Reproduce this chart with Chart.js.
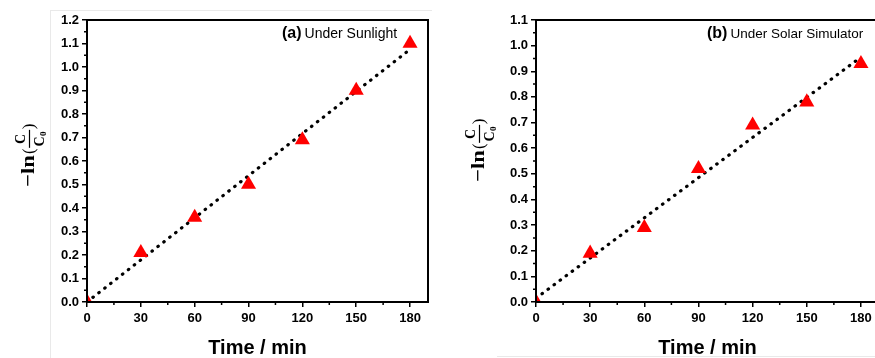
<!DOCTYPE html>
<html>
<head>
<meta charset="utf-8">
<script src="https://cdn.jsdelivr.net/npm/chart.js@4.4.1/dist/chart.umd.min.js"></script>
<style>
  html, body { margin: 0; padding: 0; background: #fff; }
  body { width: 875px; height: 358px; overflow: hidden; position: relative; }
  .panel { position: absolute; top: 0; height: 358px; }
  #pa { left: 0; width: 440px; }
  #pb { left: 440px; width: 452px; }
  .crop { position: absolute; background: #e9e9e9; }
</style>
</head>
<body>
<!-- faint crop edges from the source figure -->
<div class="crop" style="left:50px;top:10px;width:1px;height:348px"></div>
<div class="crop" style="left:50px;top:10px;width:382px;height:1px"></div>
<div class="crop" style="left:497px;top:356px;width:378px;height:1px"></div>

<div class="panel" id="pa"><canvas id="chartA" width="440" height="358"></canvas></div>
<div class="panel" id="pb"><canvas id="chartB" width="452" height="358"></canvas></div>

<script>
// ── data ────────────────────────────────────────────────────────────
const timeMin = [0, 30, 60, 90, 120, 150, 180];
const sunlight = [0.0, 0.21, 0.36, 0.50, 0.69, 0.90, 1.10];
const simulator = [0.0, 0.19, 0.29, 0.52, 0.69, 0.78, 0.93];

// dotted fit lines, end points
const fitX = [0, 180];
const fitSunlight = [0.0, 1.075];
const fitSimulator = [0.015, 0.955];

const xTicks = [0, 30, 60, 90, 120, 150, 180];
const yTicksA = [0, 0.1, 0.2, 0.3, 0.4, 0.5, 0.6, 0.7, 0.8, 0.9, 1.0, 1.1, 1.2];
const yTicksB = [0, 0.1, 0.2, 0.3, 0.4, 0.5, 0.6, 0.7, 0.8, 0.9, 1.0, 1.1];

const pts = (xs, ys) => xs.map((x, i) => ({ x, y: ys[i] }));

// ── drawing helpers ─────────────────────────────────────────────────
// -ln(C/C0), rotated, drawn from the bottom end of the text
function drawYTitle(ctx, x, y) {
  ctx.save();
  ctx.translate(x, y);
  ctx.rotate(-Math.PI / 2);
  ctx.fillStyle = "#000";
  ctx.strokeStyle = "#000";
  ctx.textBaseline = "alphabetic";
  ctx.textAlign = "left";

  ctx.save();
  ctx.scale(1.2, 1);
  ctx.font = "bold 19px 'Liberation Serif'";
  ctx.fillText("\u2212ln", 0, 0);
  let u = ctx.measureText("\u2212ln").width * 1.2 + 1;
  ctx.restore();

  ctx.font = "17px 'Liberation Serif'";
  ctx.fillText("(", u, 0);
  u += ctx.measureText("(").width + 0.5;

  const barW = 18;
  ctx.lineWidth = 1.2;
  ctx.beginPath();
  ctx.moveTo(u, -4.5);
  ctx.lineTo(u + barW, -4.5);
  ctx.stroke();

  ctx.font = "bold 14px 'Liberation Serif'";
  ctx.textAlign = "center";
  ctx.fillText("C", u + barW / 2, -9);
  ctx.fillText("C", u + barW / 2 - 2.5, 9.5);
  ctx.font = "bold 9px 'Liberation Serif'";
  ctx.fillText("0", u + barW / 2 + 5, 11.5);

  ctx.textAlign = "left";
  ctx.font = "17px 'Liberation Serif'";
  ctx.fillText(")", u + barW + 0.5, 0);
  ctx.restore();
}

function makeChart(id, cfg) {
  const frame = {
    id: "frame",
    afterDraw(chart) {
      const { ctx, chartArea: a } = chart;
      const xs = chart.scales.x, ys = chart.scales.y;
      ctx.save();
      ctx.strokeStyle = "#000";
      // minor ticks, outward
      ctx.lineWidth = 1.5;
      ctx.beginPath();
      for (let i = 0; i < cfg.xTicks.length; i++) {
        const px = xs.getPixelForValue(cfg.xTicks[i] + 15);
        if (px > a.right) break;
        ctx.moveTo(px, a.bottom);
        ctx.lineTo(px, a.bottom + 3);
      }
      for (let i = 0; i < cfg.yTicks.length - 1; i++) {
        const py = ys.getPixelForValue(cfg.yTicks[i] + 0.05);
        ctx.moveTo(a.left, py);
        ctx.lineTo(a.left - 3, py);
      }
      ctx.stroke();
      // box
      ctx.lineWidth = 2;
      ctx.strokeRect(a.left, a.top, a.right - a.left, a.bottom - a.top);
      // panel tag + note
      ctx.fillStyle = "#000";
      ctx.textBaseline = "alphabetic";
      ctx.textAlign = "left";
      ctx.font = "bold 16px 'Liberation Sans'";
      ctx.fillText(cfg.tag, cfg.tagX, 38);
      const tw = ctx.measureText(cfg.tag).width;
      ctx.font = cfg.noteFont;
      ctx.fillText(cfg.note, cfg.tagX + tw + 3, 38);
      // x title
      ctx.textAlign = "center";
      ctx.font = "bold 20px 'Liberation Sans'";
      ctx.fillText("Time / min", (a.left + a.right) / 2, 354);
      ctx.restore();
      drawYTitle(ctx, cfg.titleX, cfg.titleY);
    },
  };

  return new Chart(document.getElementById(id), {
    type: "scatter",
    data: {
      datasets: [
        {
          label: "fit",
          data: pts(fitX, cfg.fit),
          showLine: true,
          borderColor: "#000",
          borderWidth: 3.2,
          borderDash: [0.5, 7],
          borderCapStyle: "round",
          pointRadius: 0,
          clip: 0,
          order: 2,
        },
        {
          label: "data",
          data: pts(timeMin, cfg.values),
          pointStyle: "triangle",
          pointRadius: 8.7,
          pointBackgroundColor: "#ff0000",
          pointBorderColor: "#ff0000",
          pointBorderWidth: 0,
          clip: 0,
          order: 1,
        },
      ],
    },
    options: {
      responsive: false,
      animation: false,
      layout: { padding: { top: 20, right: cfg.padRight, left: 0, bottom: 0 } },
      plugins: { legend: { display: false }, tooltip: { enabled: false } },
      scales: {
        x: {
          type: "linear",
          min: 0,
          max: 190,
          afterFit: (s) => { s.height = 56; },
          afterBuildTicks: (s) => { s.ticks = cfg.xTicks.map((v) => ({ value: v })); },
          grid: { drawOnChartArea: false, drawTicks: true, tickLength: 5, color: "#000", lineWidth: 1.5 },
          border: { display: true, color: "#000", width: 2 },
          ticks: {
            color: "#000",
            padding: 4,
            maxRotation: 0,
            font: { family: "'Liberation Sans'", size: 13, weight: "bold" },
          },
        },
        y: {
          type: "linear",
          min: 0,
          max: cfg.yMax,
          afterFit: (s) => { s.width = cfg.yWidth; },
          afterBuildTicks: (s) => { s.ticks = cfg.yTicks.map((v) => ({ value: v })); },
          grid: { drawOnChartArea: false, drawTicks: true, tickLength: 5, color: "#000", lineWidth: 1.5 },
          border: { display: true, color: "#000", width: 2 },
          ticks: {
            color: "#000",
            padding: 3,
            font: { family: "'Liberation Sans'", size: 13, weight: "bold" },
            callback: (v) => v.toFixed(1),
          },
        },
      },
    },
    plugins: [frame],
  });
}

makeChart("chartA", {
  values: sunlight,
  fit: fitSunlight,
  xTicks,
  yTicks: yTicksA,
  yMax: 1.2,
  yWidth: 87,
  padRight: 12,
  tag: "(a)",
  tagX: 282,
  note: "Under Sunlight",
  noteFont: "14px 'Liberation Sans'",
  titleX: 34,
  titleY: 187,
});

makeChart("chartB", {
  values: simulator,
  fit: fitSimulator,
  xTicks,
  yTicks: yTicksB,
  yMax: 1.1,
  yWidth: 96,
  padRight: 13,
  tag: "(b)",
  tagX: 267,
  note: "Under Solar Simulator",
  noteFont: "13.5px 'Liberation Sans'",
  titleX: 44,
  titleY: 182,
});
</script>
</body>
</html>
